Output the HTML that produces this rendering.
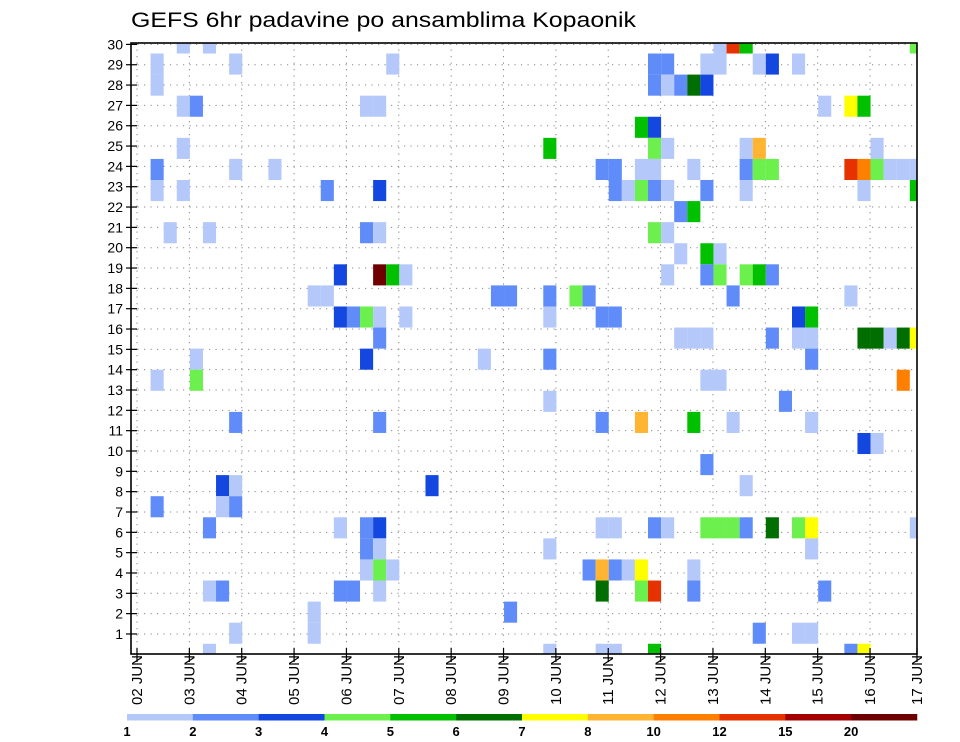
<!DOCTYPE html>
<html><head><meta charset="utf-8"><style>
html,body{margin:0;padding:0;background:#fff;}
svg{display:block;font-family:"Liberation Sans",sans-serif;}
</style></head><body>
<svg id="chart" width="960" height="742" viewBox="0 0 960 742" xmlns="http://www.w3.org/2000/svg">
<text x="131" y="27" font-size="21" textLength="505" lengthAdjust="spacingAndGlyphs" fill="#000">GEFS 6hr padavine po ansamblima Kopaonik</text>
<defs><clipPath id="plotclip"><rect x="131" y="43" width="786" height="611"/></clipPath></defs>
<g id="grid"></g>
<g id="cells" clip-path="url(#plotclip)"></g>
<rect x="131" y="43" width="786" height="611" fill="none" stroke="#000" stroke-width="1.6"/>
<g id="axes"></g>
<g id="legend"></g>
</svg>
<script>
// ---- data ----
// member index per cell (row 0..29), forecast step (6h), precip value (mm)
const members = [
29,29,29,29,29,29,
28,28,28,28,28,28,28,28,28,28,
27,27,27,27,27,27,
26,26,26,26,26,26,26,
25,25,
24,24,24,24,24,24,24,
23,23,23,23,23,23,23,23,23,23,23,23,23,23,23,23,23,
22,22,22,22,22,22,22,22,22,22,22,22,22,
21,21,
20,20,20,20,20,20,
19,19,19,
18,18,18,18,18,18,18,18,18,18,
17,17,17,17,17,17,17,17,17,
16,16,16,16,16,16,16,16,16,16,
15,15,15,15,15,15,15,15,15,15,15,15,
14,14,14,14,14,
13,13,13,13,13,
12,12,
11,11,11,11,11,11,11,
10,10,
9,
8,8,8,8,
7,7,7,
6,6,6,6,6,6,6,6,6,6,6,6,6,6,6,6,
5,5,5,5,
4,4,4,4,4,4,4,4,4,
3,3,3,3,3,3,3,3,3,3,
2,2,
1,1,1,1,1,
0,0,0,0,0,0,0
];
const steps = [
3,5,44,45,46,59,
1,7,19,39,40,43,44,47,48,50,
1,39,40,41,42,43,
3,4,17,18,52,54,55,
38,39,
3,31,39,40,46,47,56,
1,7,10,35,36,38,39,42,46,47,48,54,55,56,57,58,59,
1,3,14,18,36,37,38,39,40,43,46,55,59,
41,42,
2,5,17,18,39,40,
41,43,44,
15,18,19,20,40,43,44,46,47,48,
13,14,27,28,31,33,34,45,54,
15,16,17,18,20,31,35,36,50,51,
18,41,42,43,48,50,51,55,56,57,58,59,
4,17,26,31,51,
1,4,43,44,58,
31,49,
7,18,35,38,42,45,51,
55,56,
43,
6,7,22,46,
1,6,7,
5,15,17,18,35,36,39,40,43,44,45,46,48,50,51,59,
17,18,31,51,
17,18,19,34,35,36,37,38,42,
5,6,15,16,18,35,38,39,42,52,
13,28,
7,13,47,50,51,
5,31,35,36,39,54,55
];
const values = [
1.5,1.5,1.5,13,5.5,4.5,
1.5,1.5,1.5,2.5,2.5,1.5,1.5,1.5,3.5,1.5,
1.5,2.5,1.5,2.5,6.5,3.5,
1.5,2.5,1.5,1.5,1.5,7.5,5.5,
5.5,3.5,
1.5,5.5,4.5,1.5,1.5,9,1.5,
2.5,1.5,1.5,2.5,2.5,1.5,1.5,1.5,2.5,4.5,4.5,13,11,4.5,1.5,1.5,1.5,
1.5,1.5,2.5,3.5,2.5,1.5,4.5,2.5,1.5,2.5,1.5,1.5,5.5,
2.5,5.5,
1.5,1.5,2.5,1.5,4.5,1.5,
1.5,5.5,1.5,
3.5,25,5.5,1.5,1.5,2.5,4.5,4.5,5.5,2.5,
1.5,1.5,2.5,2.5,2.5,4.5,2.5,2.5,1.5,
3.5,2.5,4.5,1.5,1.5,1.5,2.5,2.5,3.5,5.5,
2.5,1.5,1.5,1.5,2.5,1.5,1.5,6.5,6.5,1.5,6.5,7.5,
1.5,3.5,1.5,2.5,2.5,
1.5,4.5,1.5,1.5,11,
1.5,2.5,
2.5,2.5,2.5,9,5.5,1.5,1.5,
3.5,1.5,
2.5,
3.5,1.5,3.5,1.5,
2.5,1.5,2.5,
2.5,1.5,2.5,3.5,1.5,1.5,2.5,1.5,4.5,4.5,4.5,2.5,6.5,4.5,7.5,1.5,
2.5,1.5,1.5,1.5,
1.5,4.5,1.5,2.5,9,2.5,1.5,7.5,1.5,
1.5,2.5,2.5,2.5,1.5,6.5,4.5,13,2.5,2.5,
1.5,2.5,
1.5,1.5,2.5,1.5,1.5,
1.5,1.5,1.5,1.5,5.5,2.5,7.5
];
const levels = [1,2,3,4,5,6,7,8,10,12,15,20];
const levelColors = ["#b4c8fa","#5f8cf8","#1446e0","#6cf04e","#00c000","#006e00","#ffff00","#ffb432","#ff7f00","#e63200","#a50000","#6e0000"];
const yTicks = [1,2,3,4,5,6,7,8,9,10,11,12,13,14,15,16,17,18,19,20,21,22,23,24,25,26,27,28,29,30];
const dayLabels = ["02","03","04","05","06","07","08","09","10","11","12","13","14","15","16","17"];

// ---- scales ----
const NS="http://www.w3.org/2000/svg";
const PL=131, PR=917, PT=43, PB=654;
const dayX = d => 137 + d*52.36;
const stepX = s => 137.5 + s*13.09;
const CW = 13.09;
const memberY = k => 654.3 - 21.08*k;
const CH = 21.08;
const tickY = v => 654.3 - 20.33*v;
function colorFor(v){let i=0;for(let j=0;j<levels.length;j++){if(v>=levels[j])i=j;}return levelColors[i];}
function mk(tag,attrs,parent){const e=document.createElementNS(NS,tag);for(const k in attrs)e.setAttribute(k,attrs[k]);parent.appendChild(e);return e;}

const grid=document.getElementById('grid');
for(let i=0;i<yTicks.length;i++){
  const y=tickY(yTicks[i]);
  const l=mk('line',{x1:PL,x2:PR,y1:y,y2:y,stroke:'#888','stroke-width':1,'stroke-dasharray':'1.2,5.3'},grid);
  
  
}
for(let d=0;d<dayLabels.length;d++){
  const x=Math.min(dayX(d),PR);
  const l=mk('line',{x1:x,x2:x,y1:PT,y2:PB,stroke:'#888','stroke-width':1,'stroke-dasharray':'1.2,5.3'},grid);
  
  
}

const cells=document.getElementById('cells');
for(let i=0;i<steps.length;i++){
  const r=mk('rect',{x:stepX(steps[i]),y:memberY(members[i])-CH/2,width:CW,height:CH,fill:colorFor(values[i])},cells);
  
  
}

const axes=document.getElementById('axes');
for(let i=0;i<yTicks.length;i++){
  const y=tickY(yTicks[i]);
  const t=mk('line',{x1:126,x2:137,y1:y,y2:y,stroke:'#000','stroke-width':1.2},axes);
  
  
  const tx=mk('text',{x:123,y:y+5,'font-size':14,'text-anchor':'end',fill:'#000'},axes);
  tx.textContent=String(yTicks[i]);
  
  
}
for(let d=0;d<dayLabels.length;d++){
  const x=Math.min(dayX(d),PR);
  const t=mk('line',{x1:x,x2:x,y1:PB-6,y2:PB+8,stroke:'#000','stroke-width':1.2},axes);
  
  
  const tx=mk('text',{x:0,y:0,'font-size':15,fill:'#000',transform:'translate('+(x+5)+',705) rotate(-90)'},axes);
  tx.textContent=dayLabels[d]+' JUN';
  
  
}

const legend=document.getElementById('legend');
const LX0=127, LW=65.83;
for(let i=0;i<levels.length;i++){
  const r=mk('rect',{x:LX0+i*LW,y:714,width:LW+0.3,height:6.5,fill:levelColors[i]},legend);
  
  
  const t=mk('text',{x:LX0+i*LW,y:736,'font-size':13,'font-weight':'bold','text-anchor':'middle',fill:'#000'},legend);
  t.textContent=String(levels[i]);
  
  
}
</script>
</body></html>
